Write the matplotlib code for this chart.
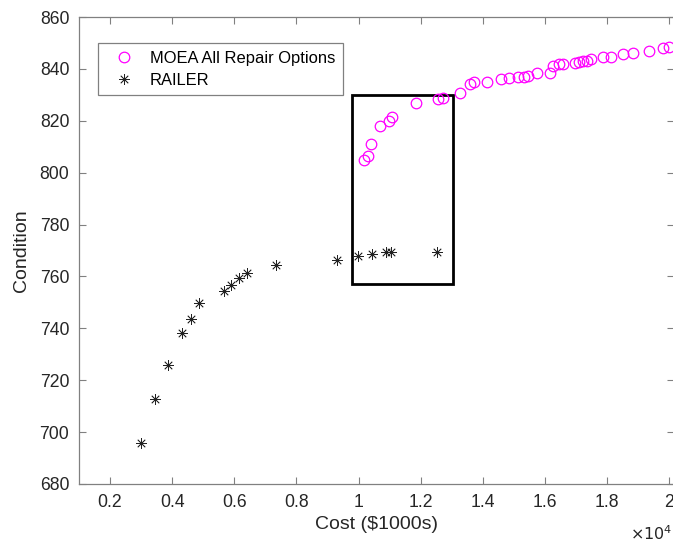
import matplotlib
matplotlib.use("Agg")
import matplotlib.pyplot as plt
from matplotlib.patches import Rectangle

plt.rcParams['font.family'] = ['Liberation Sans', 'DejaVu Sans']

# Cost in units of 10^4 ($1000s), condition values
moea_cost = [1.018, 1.029, 1.039, 1.068, 1.098, 1.108, 1.186, 1.255, 1.272, 1.328,
             1.360, 1.371, 1.414, 1.459, 1.486, 1.515, 1.534, 1.545, 1.575, 1.617,
             1.625, 1.644, 1.657, 1.698, 1.711, 1.724, 1.734, 1.749, 1.787, 1.814,
             1.850, 1.883, 1.934, 1.981, 1.999]
moea_cond = [804.9, 806.4, 810.9, 818.0, 820.0, 821.6, 827.0, 828.3, 828.7, 830.8,
             834.2, 834.8, 835.1, 836.1, 836.4, 837.0, 837.0, 837.3, 838.3, 838.3,
             841.2, 841.8, 841.8, 842.4, 842.7, 843.2, 843.2, 843.7, 844.4, 844.4,
             845.6, 846.0, 847.0, 847.9, 848.6]

railer_cost = [0.300, 0.345, 0.387, 0.433, 0.460, 0.487, 0.568, 0.589, 0.615, 0.642,
               0.735, 0.932, 0.997, 1.042, 1.090, 1.105, 1.254]
railer_cond = [695.9, 712.7, 725.9, 738.1, 743.7, 749.6, 754.5, 756.8, 759.3, 761.2,
               764.5, 766.3, 767.9, 768.6, 769.3, 769.5, 769.5]

box_x = [0.980, 1.305]
box_y = [757.0, 829.9]

xticks = [0.2, 0.4, 0.6, 0.8, 1.0, 1.2, 1.4, 1.6, 1.8, 2.0]
xticklabels = ['0.2', '0.4', '0.6', '0.8', '1', '1.2', '1.4', '1.6', '1.8', '2']
yticks = [680, 700, 720, 740, 760, 780, 800, 820, 840, 860]

fig = plt.figure(figsize=(6.73, 5.44), dpi=100)
W, H = 673, 544
left, right, top, bottom = 79, 674, 17, 484
ax = fig.add_axes([left / W, 1 - bottom / H, (right - left) / W, (bottom - top) / H])

ax.plot(moea_cost, moea_cond, linestyle='none', marker='o', markersize=7.6,
        markerfacecolor='none', markeredgecolor='#ff00ff', markeredgewidth=0.9,
        label='MOEA All Repair Options')
ax.plot(railer_cost, railer_cond, linestyle='none', marker=(8, 2, 0), markersize=7.5,
        color='#222222', markeredgewidth=0.55, label='RAILER')

ax.add_patch(Rectangle((box_x[0], box_y[0]), box_x[1] - box_x[0], box_y[1] - box_y[0],
                       fill=False, edgecolor='black', linewidth=2))

ax.set_xlim(0.1, 0.1 + (right - left) / 310.6)
ax.set_ylim(680, 860)
ax.set_xticks(xticks)
ax.set_xticklabels(xticklabels)
ax.set_yticks(yticks)

for s in ax.spines.values():
    s.set_color('#808080')
    s.set_linewidth(0.9)
ax.tick_params(direction='in', top=True, right=True, length=5, width=0.8,
               color='#808080', labelcolor='#262626', labelsize=12.7, pad=7)

ax.set_xlabel('Cost ($1000s)', fontsize=14, color='#262626', labelpad=4)
ax.set_ylabel('Condition', fontsize=14, color='#262626', labelpad=7)

fig.text(630 / W, 1 - 534 / H, r'$\times10^4$', fontsize=11.5, color='#262626',
         va='center', ha='left', math_fontfamily='dejavusans')

leg = ax.legend(loc='upper left', bbox_to_anchor=(0.032, 0.944), fontsize=11.9,
                frameon=True, fancybox=False, edgecolor='#808080', framealpha=1,
                borderpad=0.45, handletextpad=0.5, handlelength=2.2, labelspacing=0.42,
                borderaxespad=0)
leg.get_frame().set_linewidth(0.9)

fig.savefig('out.png', dpi=100)
